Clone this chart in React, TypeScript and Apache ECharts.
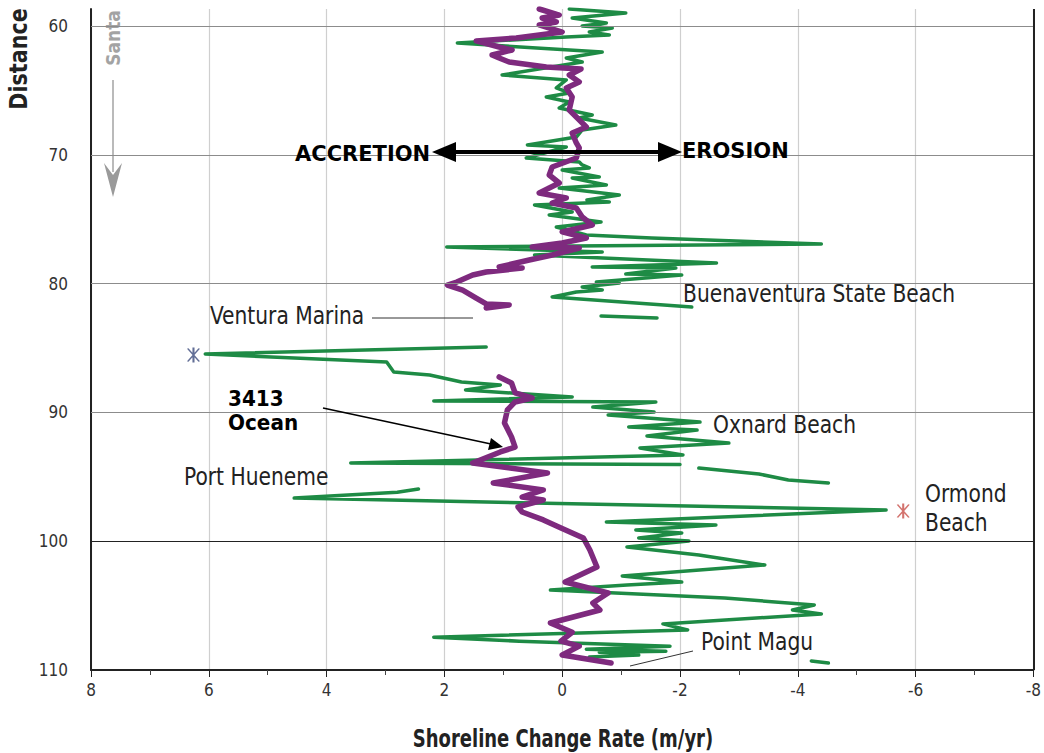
import React, { useEffect, useRef } from "react";
import * as echarts from "echarts";

// x = shoreline change rate (m/yr), y = distance (km)
const greenTop: [number, number][] = [
  [-0.12, 58.68], [-1.08, 58.99], [-0.17, 59.38], [-0.75, 59.77], [-0.34, 60.0], [-0.85, 60.16],
  [-0.46, 60.47], [-0.8, 60.7], [-0.07, 60.85], [1.78, 61.32], [-0.68, 62.02], [-0.07, 62.48],
  [-0.34, 62.8], [1.02, 63.8], [-0.07, 64.19], [0.1, 64.81], [-0.12, 65.2], [0.27, 65.51],
  [-0.12, 65.9], [0.05, 66.37], [-0.51, 66.91], [-0.29, 67.14], [-0.91, 67.69], [-0.34, 68.07],
  [-0.24, 68.62], [0.59, 69.24], [-0.07, 69.39], [0.61, 70.25], [-0.29, 70.56], [-0.34, 70.79],
  [-0.46, 71.02], [0.0, 71.18], [-0.63, 71.72], [-0.17, 71.8], [-0.58, 72.19], [-0.75, 72.34],
  [0.05, 72.58], [-0.97, 73.12], [-0.42, 73.51], [-0.8, 73.66], [0.47, 73.9], [-0.17, 74.44],
  [0.22, 74.67], [-0.66, 75.22], [0.1, 75.61], [-0.41, 76.23], [-1.52, 76.46], [-4.4, 76.93],
  [1.96, 77.16], [-0.68, 77.55], [0.47, 77.78], [-2.62, 78.4], [-0.51, 78.71], [-1.93, 78.79],
  [-1.08, 79.25], [-2.03, 79.33], [-0.58, 79.88], [-0.97, 79.95], [-0.34, 80.26], [-0.68, 80.5],
  [-0.24, 80.65], [0.17, 81.04], [-2.2, 81.82],
];
const greenPiece1: [number, number][] = [[-0.66, 82.52], [-1.61, 82.67]];
const greenMid: [number, number][] = [
  [1.29, 84.92], [6.06, 85.47], [2.98, 86.09], [2.86, 86.86], [2.25, 87.1], [1.71, 87.64],
  [1.05, 87.87], [1.64, 88.26], [-0.17, 88.8], [2.18, 89.11], [-1.59, 89.19], [-0.52, 89.58],
  [-1.56, 89.97], [-0.78, 90.2], [-2.34, 90.75], [-1.13, 91.13], [-2.29, 91.37], [-1.44, 91.83],
  [-2.83, 92.38], [-1.32, 92.76], [-2.05, 93.31], [3.59, 93.93], [-2.0, 94.05],
];
const greenPiece2: [number, number][] = [[-2.32, 94.32], [-3.34, 94.78], [-3.84, 95.25], [-4.52, 95.48]];
const greenLow: [number, number][] = [
  [2.44, 95.95], [2.8, 96.2], [4.55, 96.65], [-5.5, 97.58], [-2.32, 98.2], [-0.75, 98.51],
  [-2.61, 98.74], [-1.25, 99.13], [-2.03, 99.36], [-1.3, 99.75], [-2.15, 99.98], [-1.1, 100.45],
  [-2.32, 101.07], [-3.44, 101.85], [-1.02, 102.7], [-2.03, 103.17], [-1.1, 103.4], [0.2, 103.79],
  [-2.76, 104.41], [-4.28, 104.95], [-3.91, 105.34], [-4.4, 105.65], [-1.71, 106.42], [-2.13, 106.89],
  [2.18, 107.45], [0.73, 107.76], [-1.83, 108.15], [-0.41, 108.39], [-1.76, 108.54], [-0.63, 108.62],
  [-1.3, 108.84], [-0.46, 108.99],
];
const greenPiece3: [number, number][] = [[-4.23, 109.3], [-4.52, 109.46]];

const purpleTop: [number, number][] = [
  [0.39, 58.68], [0.05, 59.15], [0.34, 59.38], [0.1, 59.69], [0.39, 59.92], [0.0, 60.47],
  [0.78, 60.93], [1.46, 61.16], [1.07, 61.63], [0.85, 61.86], [1.19, 62.25], [1.07, 62.48],
  [0.9, 62.8], [0.27, 63.18], [-0.32, 63.34], [-0.12, 63.8], [-0.29, 64.35], [-0.07, 64.81],
  [-0.17, 65.51], [-0.12, 66.52], [-0.24, 67.07], [-0.41, 67.84], [-0.17, 68.31], [-0.24, 69.08],
  [-0.29, 69.47], [-0.24, 70.25], [0.17, 70.95], [0.22, 71.57], [0.05, 72.19], [0.39, 72.97],
  [-0.07, 73.35], [0.17, 73.74], [-0.24, 74.13], [-0.34, 74.83], [-0.51, 75.45], [0.0, 75.99],
  [-0.41, 76.46], [0.0, 76.85], [0.51, 77.16], [-0.29, 77.24], [0.17, 77.78], [0.56, 78.17],
  [1.07, 78.71], [0.68, 78.79], [1.29, 79.1], [1.52, 79.33], [1.79, 79.88], [1.95, 80.11],
  [1.69, 80.5], [1.46, 81.12], [1.29, 81.58], [0.9, 81.66], [1.29, 81.89],
];
const purpleLow: [number, number][] = [
  [1.07, 87.25], [0.86, 87.72], [0.8, 88.49], [0.51, 88.88], [0.8, 89.19], [0.93, 89.81],
  [0.98, 90.82], [0.86, 91.91], [0.8, 92.69], [1.05, 93.07], [1.52, 93.93], [0.25, 94.71],
  [1.17, 95.48], [0.32, 96.02], [0.68, 96.57], [0.32, 96.8], [0.75, 97.34], [0.68, 97.73],
  [0.32, 98.35], [0.02, 98.98], [-0.36, 99.75], [-0.47, 100.68], [-0.59, 102.0], [-0.05, 103.17],
  [-0.78, 104.02], [-0.52, 104.8], [-0.64, 105.34], [0.2, 106.35], [-0.17, 107.07], [0.02, 107.76],
  [-0.29, 108.15], [0.0, 108.84], [-0.83, 109.46],
];

const blueStar: [number, number][] = [[6.26, 85.54]];
const redStar: [number, number][] = [[-5.79, 97.66]];

const yTickLabels = [60, 70, 80, 90, 100, 110];
const gridLinesY = [60, 70, 80, 90];
const darkLinesY = [100];

const GREEN = "#1e8b45";
const PURPLE = "#7e2a7e";
const COND = "'DejaVu Sans Condensed', 'DejaVu Sans', sans-serif";
const VERD = "'DejaVu Sans', Verdana, sans-serif";

const STAR =
  "path://M-0.9,-10 L0.9,-10 L0.9,10 L-0.9,10 Z " +
  "M-5.65,-8.28 L-4.35,-9.04 L5.65,8.28 L4.35,9.04 Z " +
  "M4.35,-9.04 L5.65,-8.28 L-4.35,9.04 L-5.65,8.28 Z";

export default function App() {
  const ref = useRef<HTMLDivElement>(null);
  useEffect(() => {
    if (!ref.current) return;
    const chart = echarts.init(ref.current, undefined, { renderer: "svg" });
    const lineSeries = (data: [number, number][], color: string, width: number, z: number) => ({
      type: "line",
      data,
      showSymbol: false,
      symbol: "none",
      clip: true,
      z,
      lineStyle: { color, width, join: "round", cap: "round" },
      emphasis: { disabled: true },
    });
    const txt = (text: string, x: number, y: number, font: string, fill = "#222", scaleY = 1.12) => ({
      type: "text",
      x,
      y,
      z: 100,
      scaleY,
      style: { text, font, fill, align: "left", verticalAlign: "middle" },
    });
    chart.setOption({
      animation: false,
      grid: { left: 91, right: 8, top: 9, bottom: 83, containLabel: false },
      xAxis: {
        type: "value",
        min: -8,
        max: 8,
        interval: 2,
        inverse: true,
        axisLine: { onZero: false, lineStyle: { color: "#222", width: 2 } },
        axisTick: { show: true, length: 7, lineStyle: { color: "#222", width: 1 } },
        minorTick: { show: true, splitNumber: 2, length: 5, lineStyle: { color: "#444", width: 1 } },
        axisLabel: { fontFamily: COND, fontSize: 17, color: "#333", margin: 11 },
        splitLine: { show: true, lineStyle: { color: "#cfcfcf", width: 1.2 } },
      },
      yAxis: {
        type: "value",
        min: 58.68,
        max: 110,
        inverse: true,
        axisLine: { onZero: false, lineStyle: { color: "#222", width: 2 } },
        axisTick: { show: false },
        axisLabel: { customValues: yTickLabels, fontFamily: COND, fontSize: 17, color: "#333", margin: 23 },
        splitLine: { show: false },
      },
      series: [
        {
          type: "line",
          data: [[0, 60]],
          showSymbol: false,
          symbol: "none",
          lineStyle: { width: 0 },
          z: 1,
          markLine: {
            silent: true,
            symbol: "none",
            label: { show: false },
            lineStyle: { color: "#8c8c8c", width: 1.2, type: "solid" },
            data: [
              ...gridLinesY.map((v) => ({ yAxis: v })),
              ...darkLinesY.map((v) => ({ yAxis: v, lineStyle: { color: "#222", width: 1.2, type: "solid" } })),
              { xAxis: -8, lineStyle: { color: "#222", width: 2, type: "solid" } },
            ],
          },
        },
        lineSeries(greenTop, GREEN, 3.5, 2),
        lineSeries(greenPiece1, GREEN, 3.5, 2),
        lineSeries(greenMid, GREEN, 3.5, 2),
        lineSeries(greenPiece2, GREEN, 3.5, 2),
        lineSeries(greenLow, GREEN, 3.5, 2),
        lineSeries(greenPiece3, GREEN, 3.5, 2),
        lineSeries(purpleTop, PURPLE, 5.5, 3),
        lineSeries(purpleLow, PURPLE, 5.5, 3),
        {
          type: "scatter",
          data: blueStar,
          symbol: STAR,
          symbolSize: [13, 15],
          itemStyle: { color: "#3b4a7c" },
          z: 4,
        },
        {
          type: "scatter",
          data: redStar,
          symbol: STAR,
          symbolSize: [13, 15],
          itemStyle: { color: "#c8504a" },
          z: 4,
        },
      ],
      graphic: [
        {
          type: "text",
          x: 19,
          y: 59,
          rotation: Math.PI / 2,
          scaleY: 1.1,
          style: { text: "Distance", font: `bold 23px ${COND}`, fill: "#222", align: "center", verticalAlign: "middle" },
        },
        {
          type: "text",
          x: 563,
          y: 738,
          scaleY: 1.2,
          style: {
            text: "Shoreline Change Rate (m/yr)",
            font: `bold 20px ${COND}`,
            fill: "#222",
            align: "center",
            verticalAlign: "middle",
          },
        },
        {
          type: "text",
          x: 113,
          y: 38,
          rotation: Math.PI / 2,
          style: { text: "Santa", font: `bold 19px ${COND}`, fill: "#a3a3a3", align: "center", verticalAlign: "middle" },
        },
        { type: "line", shape: { x1: 113, y1: 80, x2: 113, y2: 172 }, style: { stroke: "#a3a3a3", lineWidth: 1.5 } },
        {
          type: "polygon",
          shape: { points: [[104, 163], [113, 197], [122, 163], [113, 175]] },
          style: { fill: "#9a9a9a" },
        },
        // accretion / erosion arrow
        { type: "line", z: 100, shape: { x1: 450, y1: 152, x2: 664, y2: 152 }, style: { stroke: "#000", lineWidth: 4 } },
        { type: "polygon", z: 100, shape: { points: [[432, 152], [456, 142], [456, 162]] }, style: { fill: "#000" } },
        { type: "polygon", z: 100, shape: { points: [[682, 152], [658, 142], [658, 162]] }, style: { fill: "#000" } },
        txt("ACCRETION", 295, 154, `bold 21px ${VERD}`, "#000", 1),
        txt("EROSION", 682, 151, `bold 21px ${VERD}`, "#000", 1),
        // labels
        txt("Ventura Marina", 210, 316, `22.5px ${COND}`),
        { type: "line", z: 100, shape: { x1: 372, y1: 318, x2: 473, y2: 318 }, style: { stroke: "#333", lineWidth: 1 } },
        txt("Buenaventura State Beach", 683, 294, `22.5px ${COND}`),
        txt("3413", 228, 399, `bold 20px ${VERD}`, "#000", 1.05),
        txt("Ocean", 228, 423, `bold 20px ${VERD}`, "#000", 1.05),
        { type: "line", z: 100, shape: { x1: 323, y1: 408, x2: 491, y2: 444 }, style: { stroke: "#000", lineWidth: 1.6 } },
        { type: "polygon", z: 100, shape: { points: [[503, 447], [488, 450], [491, 438]] }, style: { fill: "#000" } },
        txt("Oxnard Beach", 713, 425, `22.5px ${COND}`),
        txt("Port Hueneme", 184, 477, `22.5px ${COND}`),
        txt("Ormond", 925, 494, `22.5px ${COND}`),
        txt("Beach", 925, 523, `22.5px ${COND}`),
        txt("Point Magu", 701, 642, `22.5px ${COND}`),
        { type: "line", z: 100, shape: { x1: 630, y1: 666, x2: 693, y2: 651 }, style: { stroke: "#333", lineWidth: 1 } },
      ],
    });
    return () => chart.dispose();
  }, []);
  return (
    <div
      ref={ref}
      style={{ position: "fixed", left: 0, top: 0, width: 1044, height: 753, background: "#fff" }}
    />
  );
}
